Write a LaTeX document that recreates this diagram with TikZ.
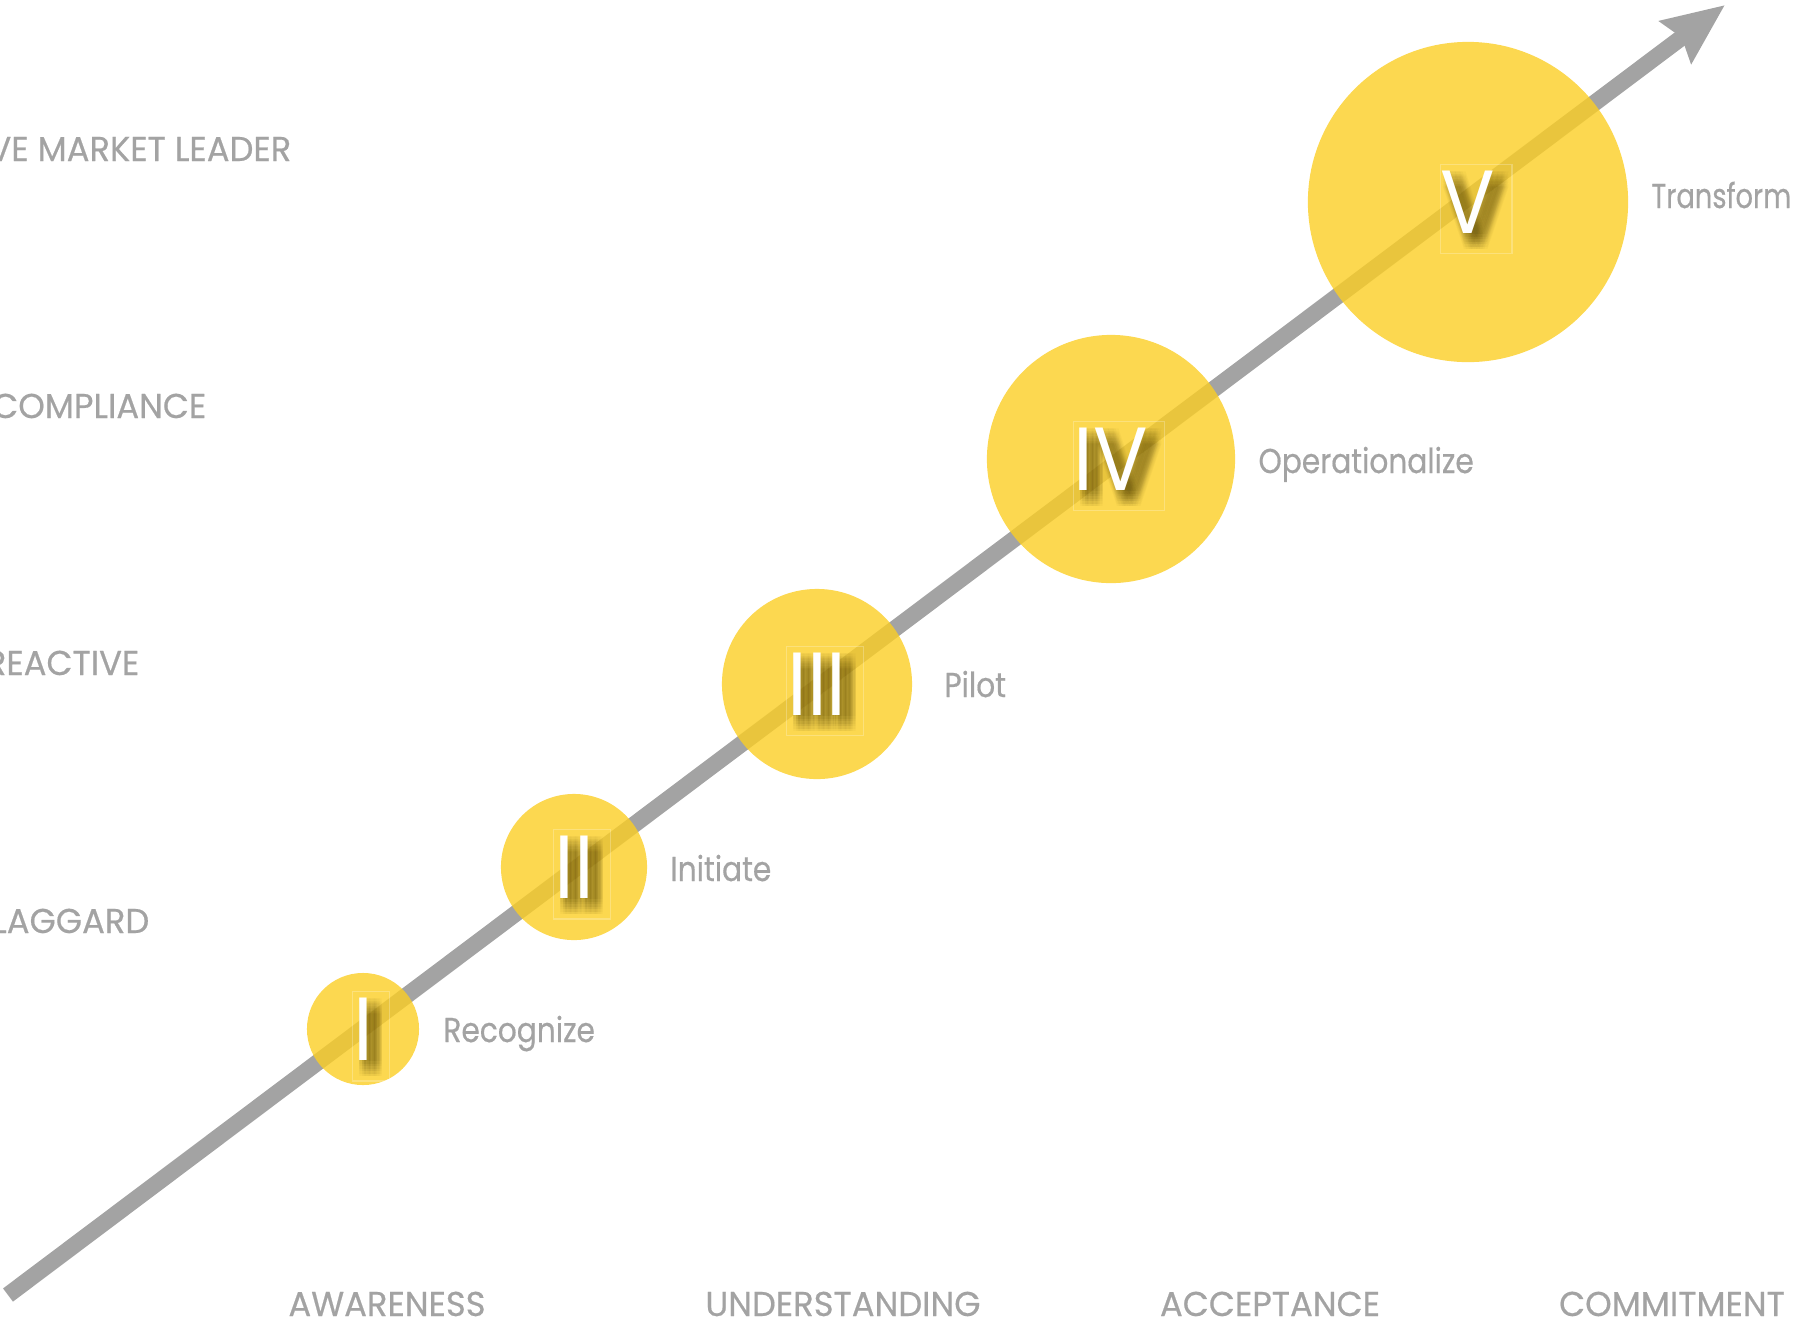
\documentclass[tikz,border=0pt]{standalone}
\usepackage{fontspec}
\setmainfont{Poppins}[FakeStretch=0.86, FakeBold=0.5]
\newfontfamily\capsfont{Poppins}[FakeStretch=0.98, FakeBold=0.5]
\newfontfamily\romanfont{Poppins}[FakeStretch=0.9]
\usetikzlibrary{arrows.meta}
\definecolor{linegray}{RGB}{163,163,163}
\definecolor{stageyellow}{RGB}{251,206,36}
\definecolor{shadowolive}{RGB}{96,78,10}
\tikzset{
	stage/.style={circle, fill=stageyellow, fill opacity=0.8, inner sep=0pt, minimum size=#1},
	numeral/.style={text=white, inner sep=0pt, font=\romanfont\fontsize{25.5}{26}\selectfont},
	numshadow/.style={text=shadowolive, text opacity=0.035, inner sep=0pt, font=\romanfont\fontsize{25.5}{26}\selectfont},
	ghostbox/.style={draw=white, draw opacity=0.25, line width=0.3pt},
	steplabel/.style={text=linegray, inner sep=0pt, anchor=base west, font=\fontsize{9.8}{11}\selectfont},
	levellabel/.style={text=linegray, inner sep=0pt, anchor=base east, font=\capsfont\fontsize{9.8}{11}\selectfont},
	phaselabel/.style={text=linegray, inner sep=0pt, anchor=base, font=\capsfont\fontsize{9.8}{11}\selectfont},
	trend/.style={draw=linegray, line width=0.165cm, -{Stealth[length=0.61cm,width=0.51cm,inset=0.07cm]}}
}
\begin{document}
\begin{tikzpicture}[x=0.01cm, y=-0.01cm]
	\useasboundingbox (0,0) rectangle (1796,1320);
	%trend line
	\coordinate (start) at (8,1295);
	\coordinate (tip) at (1725,5);
	\draw[trend] (start) -- (tip);
	%stages
	\foreach \n/\rn/\x/\y/\r/\word/\gap/\dy/\sx in {1/I/363/1029/56/Recognize/23/13/1, 2/II/574/867/73/Initiate/22/14/1, 3/III/817/684/95/Pilot/31/13/1, 4/IV/1111/459/124/Operationalize/22/14/1, 5/V/1468/202/160/Transform/22/6/0.92} {
		\node[stage=\r*0.02cm] (s\n) at (\x,\y) {};
		\foreach \dx in {-7.5,-5,-2.5,0,2.5,5,7.5} {
			\foreach \dy in {-7.5,-5,-2.5,0,2.5,5,7.5} {
				\node[numshadow] at (\x+8+\dx,\y+9+\dy) {\rn};
			}
		}
		\node[numeral] (n\n) at (\x,\y) {\rn};
		\draw[ghostbox] ([shift={(0,-6)}]n\n.north west) rectangle ([shift={(16,20)}]n\n.south east);
		\node[steplabel] (l\n) at ([shift={(\gap,\dy)}]s\n.east) {\scalebox{\sx}[1]{\word}};
	}
	%levels
	\foreach \txt/\xe/\yb [count=\k] in {VE MARKET LEADER/292/161, COMPLIANCE/207/418, REACTIVE/140/675, LAGGARD/150/933} {
		\node[levellabel] (v\k) at (\xe,\yb) {\txt};
	}
	%phases
	\foreach \txt/\xc [count=\k] in {AWARENESS/387, UNDERSTANDING/843, ACCEPTANCE/1270, COMMITMENT/1672} {
		\node[phaselabel] (p\k) at (\xc,1316) {\txt};
	}
\end{tikzpicture}
\end{document}
